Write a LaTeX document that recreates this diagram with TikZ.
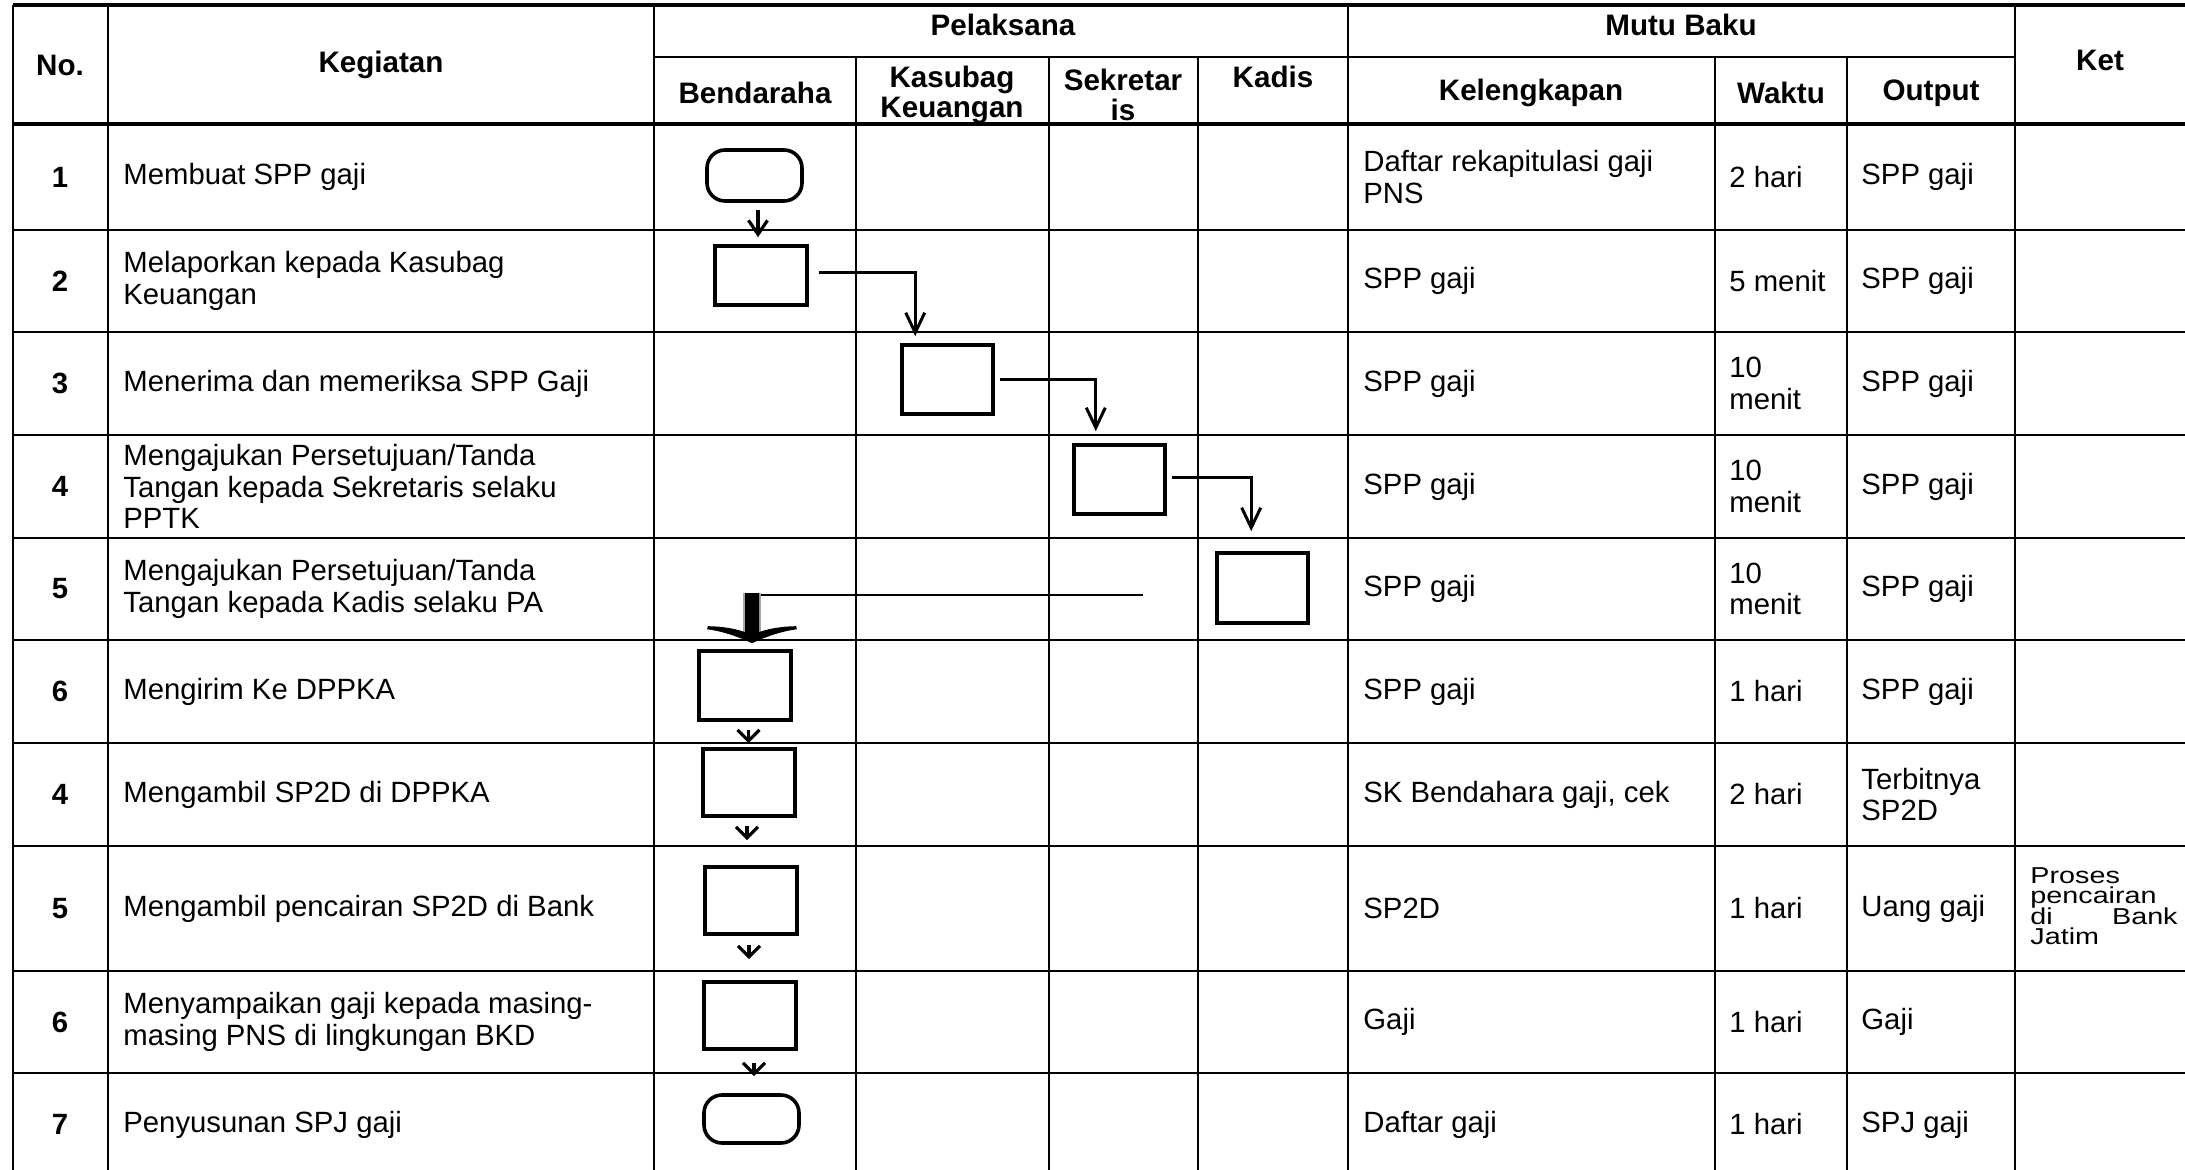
\documentclass[tikz,border=0pt]{standalone}
\usepackage{fontspec}
\setmainfont{Liberation Sans}
\newfontfamily\ketfont[FakeStretch=1.25]{Liberation Sans}
\usetikzlibrary{arrows.meta,calc}
\begin{document}
\begin{tikzpicture}[x=0.5pt,y=-0.5pt,
  grid/.style={line width=1.2pt},
  heavy/.style={line width=1.75pt},
  txt/.style={font=\fontsize{14.65}{15.75}\selectfont, inner sep=0pt, align=left, anchor=west},
  num/.style={font=\bfseries\fontsize{14.65}{15.75}\selectfont, inner sep=0pt},
  hdr/.style={font=\bfseries\fontsize{14.8}{15}\selectfont, inner sep=0pt, align=center},
  note/.style={font=\ketfont\fontsize{11.5}{10}\selectfont, inner sep=0pt, anchor=base west},
  procbox/.style={draw, line width=1.8pt, inner sep=0pt, minimum width=46pt},
  term/.style={draw, line width=1.8pt, inner sep=0pt, rounded corners=9pt, minimum width=47.5pt},
  conn/.style={line width=1.5pt, -{Straight Barb[length=10pt,width=9.5pt]}},
  sarr/.style={line width=1.6pt, -{Straight Barb[length=5.5pt,width=11pt]}},
]
\useasboundingbox (0,0) rectangle (2185,1170);
\fill[white] (0,0) rectangle (2185,1170);
\clip (0,0) rectangle (2185,1170);

% ---- table grid ----
\draw[heavy] (13,5) -- (2200,5);
\draw[grid] (654,57) -- (2015,57);
\draw[heavy] (13,124) -- (2200,124);
\foreach \r in {230,332,435,538,640,743,846,971,1073,1176}
  \draw[grid] (13,\r) -- (2200,\r);
\foreach \c in {13,108,654,1348,2015}
  \draw[grid] (\c,5) -- (\c,1190);
\foreach \c in {856,1049,1198,1715,1847}
  \draw[grid] (\c,57) -- (\c,1190);

% ---- header ----
\node[hdr] (hNo)   at (60,65)    {No.};
\node[hdr] (hKeg)  at (381,65)   {Kegiatan};
\node[hdr] (hPel)  at (1003,25)  {Pelaksana};
\node[hdr] (hMutu) at (1681,25)  {Mutu Baku};
\node[hdr] (hKet)  at (2100,60)  {Ket};
\node[hdr] (hBen)  at (755,93)   {Bendaraha};
\node[hdr] (hKas)  at (952,95)   {Kasubag\\Keuangan};
\node[hdr] (hSek)  at (1123,95)  {Sekretar\\is};
\node[hdr] (hKad)  at (1273,77)  {Kadis};
\node[hdr] (hKel)  at (1531,93)  {Kelengkapan};
\node[hdr] (hWak)  at (1781,93)  {Waktu};
\node[hdr] (hOut)  at (1931,93)  {Output};

% ---- row numbers ----
\node[num] (n1)  at (60,177)    {1};
\node[num] (n2)  at (60,281)    {2};
\node[num] (n3)  at (60,383.5)  {3};
\node[num] (n4)  at (60,486.5)  {4};
\node[num] (n5)  at (60,589)    {5};
\node[num] (n6)  at (60,691.5)  {6};
\node[num] (n7)  at (60,794.5)  {4};
\node[num] (n8)  at (60,908.5)  {5};
\node[num] (n9)  at (60,1022)   {6};
\node[num] (n10) at (60,1124.5) {7};

% ---- activities ----
\node[txt] (k1)  at (123,177)    {Membuat SPP gaji};
\node[txt] (k2)  at (123,281)    {Melaporkan kepada Kasubag\\Keuangan};
\node[txt] (k3)  at (123,383.5)  {Menerima dan memeriksa SPP Gaji};
\node[txt] (k4)  at (123,486.5)  {Mengajukan Persetujuan/Tanda\\Tangan kepada Sekretaris selaku\\PPTK};
\node[txt] (k5)  at (123,589)    {Mengajukan Persetujuan/Tanda\\Tangan kepada Kadis selaku PA};
\node[txt] (k6)  at (123,691.5)  {Mengirim Ke DPPKA};
\node[txt] (k7)  at (123,794.5)  {Mengambil SP2D di DPPKA};
\node[txt] (k8)  at (123,908.5)  {Mengambil pencairan SP2D di Bank};
\node[txt] (k9)  at (123,1022)   {Menyampaikan gaji kepada masing-\\masing PNS di lingkungan BKD};
\node[txt] (k10) at (123,1124.5) {Penyusunan SPJ gaji};

% ---- Kelengkapan ----
\node[txt] (l1)  at (1363,177)    {Daftar rekapitulasi gaji\\PNS};
\node[txt] (l2)  at (1363,281)    {SPP gaji};
\node[txt] (l3)  at (1363,383.5)  {SPP gaji};
\node[txt] (l4)  at (1363,486.5)  {SPP gaji};
\node[txt] (l5)  at (1363,589)    {SPP gaji};
\node[txt] (l6)  at (1363,691.5)  {SPP gaji};
\node[txt] (l7)  at (1363,794.5)  {SK Bendahara gaji, cek};
\node[txt] (l8)  at (1363,908.5)  {SP2D};
\node[txt] (l9)  at (1363,1022)   {Gaji};
\node[txt] (l10) at (1363,1124.5) {Daftar gaji};

% ---- Waktu ----
\node[txt] (w1)  at (1729,177)    {2 hari};
\node[txt] (w2)  at (1729,281)    {5 menit};
\node[txt] (w3)  at (1729,383.5)  {10\\menit};
\node[txt] (w4)  at (1729,486.5)  {10\\menit};
\node[txt] (w5)  at (1729,589)    {10\\menit};
\node[txt] (w6)  at (1729,691.5)  {1 hari};
\node[txt] (w7)  at (1729,794.5)  {2 hari};
\node[txt] (w8)  at (1729,908.5)  {1 hari};
\node[txt] (w9)  at (1729,1022)   {1 hari};
\node[txt] (w10) at (1729,1124.5) {1 hari};

% ---- Output ----
\node[txt] (o1)  at (1861,177)    {SPP gaji};
\node[txt] (o2)  at (1861,281)    {SPP gaji};
\node[txt] (o3)  at (1861,383.5)  {SPP gaji};
\node[txt] (o4)  at (1861,486.5)  {SPP gaji};
\node[txt] (o5)  at (1861,589)    {SPP gaji};
\node[txt] (o6)  at (1861,691.5)  {SPP gaji};
\node[txt] (o7)  at (1861,794.5)  {Terbitnya\\SP2D};
\node[txt] (o8)  at (1861,908.5)  {Uang gaji};
\node[txt] (o9)  at (1861,1022)   {Gaji};
\node[txt] (o10) at (1861,1124.5) {SPJ gaji};

% ---- Ket (justified lines) ----
\node[note] (ket1) at (2030,883)   {Proses};
\node[note] (ket2) at (2030,903.5) {pencairan};
\node[note] (ket3) at (2030,924)   {di};
\node[note, anchor=base east] (ket4) at (2178,924) {Bank};
\node[note] (ket5) at (2030,944.5) {Jatim};

% ---- flow symbols ----
\node[term, minimum height=25.5pt] (t1)  at (754.5,175.5) {};
\node[procbox, minimum height=29.5pt] (b2) at (761,275.5) {};
\node[procbox, minimum width=45.5pt, minimum height=34.5pt] (b3) at (947.5,379.5) {};
\node[procbox, minimum width=45.5pt, minimum height=34.5pt] (b4) at (1119.5,479.5) {};
\node[procbox, minimum width=45.5pt, minimum height=35pt] (b5) at (1262.5,588) {};
\node[procbox, minimum height=34.5pt] (b6) at (745,685.5) {};
\node[procbox, minimum height=33.5pt] (b7) at (749,782.5) {};
\node[procbox, minimum height=33.5pt] (b8) at (751,900.5) {};
\node[procbox, minimum height=33.5pt] (b9) at (750,1015.5) {};
\node[term, minimum height=24pt] (t10) at (751.5,1119) {};

% ---- connectors ----
\draw[sarr, -{Straight Barb[length=7pt,width=9.5pt]}, shorten <=3.5pt, shorten >=3.5pt]
  ([xshift=1.75pt]t1.south) -- ([xshift=1.75pt]t1.south |- b2.north);
\draw[conn] ([xshift=5pt,yshift=1.25pt]b2.east) -| ([xshift=7.5pt,yshift=3.5pt]b3.north west);
\draw[conn] ([xshift=2.75pt]b3.east) -| ([xshift=11.8pt,yshift=6pt]b4.north west);
\draw[conn] ([xshift=2.5pt,yshift=0.75pt]b4.east) -| ([xshift=18pt,yshift=10pt]b5.north west);

% return line from Kadis back to Bendaraha, ending in a heavy arrow
\coordinate (c5) at (1143,595);
\draw[line width=1.3pt] (c5) -- (c5 -| b6.north);
\begin{scope}[shift={($(b6.north)+(7,-6)$)}]
  \fill[black!35] (-9,-50) rectangle (9,-10);
  \fill[black] (0,0) .. controls (-15,-7) and (-30,-12) .. (-45,-14)
    -- (-44,-17) .. controls (-30,-17) and (-14,-14) .. (-7,-11)
    -- (-7,-50) -- (7,-50) -- (7,-11)
    .. controls (14,-14) and (30,-17) .. (44,-17)
    -- (45,-14) .. controls (30,-12) and (15,-7) .. (0,0) -- cycle;
\end{scope}

\draw[sarr, shorten <=4pt, shorten >=2pt]
  ([xshift=1.75pt]b6.south) -- ([xshift=1.75pt]b6.south |- b7.north);
\draw[sarr, shorten <=4pt, shorten >=12.5pt]
  ([xshift=-1pt]b7.south) -- ([xshift=-1pt]b7.south |- b8.north);
\draw[sarr, shorten <=4.5pt, shorten >=10.5pt]
  ([xshift=-1pt]b8.south) -- ([xshift=-1pt]b8.south |- b9.north);
\draw[sarr, shorten <=6pt, shorten >=8.5pt]
  ([xshift=2pt]b9.south) -- ([xshift=2pt]b9.south |- t10.north);
\end{tikzpicture}
\end{document}
